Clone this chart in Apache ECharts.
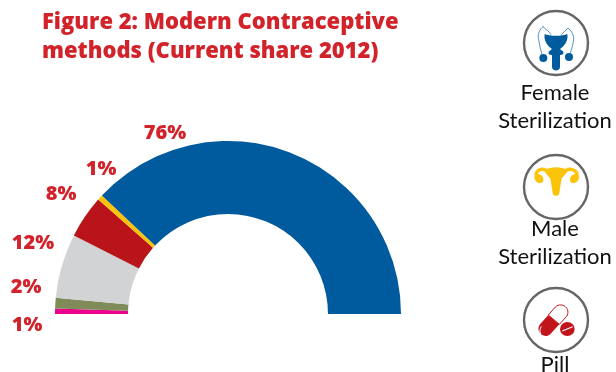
<!DOCTYPE html>
<html>
<head>
<meta charset="utf-8">
<style>html,body{margin:0;padding:0;background:#fff}#chart{width:616px;height:372px}</style>
<script src="https://cdn.jsdelivr.net/npm/echarts@6/dist/echarts.min.js"></script>
</head>
<body>
<div id="chart"></div>
<script>
// Share of each modern method, walking the half ring from left to right.
var methods = ['Other', 'Condom', 'Injectable', 'Pill', 'Male Sterilization', 'Female Sterilization'];
var shares = [1, 2, 12, 8, 1, 76];
var sliceColors = ['#ec008c', '#7f8c5a', '#d1d3d4', '#b9141a', '#fcc30b', '#005a9e'];
var labelSpots = [[27, 325], [26, 287], [33, 243], [61, 194], [101, 169], [165, 133]];
var titleLines = ['Figure 2: Modern Contraceptive', 'methods (Current share 2012)'];

var FONT = 'Lato, "Open Sans", sans-serif';
var HEAD_FONT = '"Open Sans", Lato, sans-serif';
var RED = '#d2232a';

function caption(text, y) {
  return { type: 'text', x: 555, y: y, style: {
    text: text, font: '400 22px ' + FONT, fill: '#111', align: 'center', verticalAlign: 'middle'
  }};
}

function ring(cy) {
  return { type: 'circle', shape: { cx: 556, cy: cy, r: 32 }, style: { fill: '#fff', stroke: '#666', lineWidth: 2.4 } };
}

// Icon artwork is authored at three times size around its own centre.
function icon(cy, children) {
  return { type: 'group', x: 556, y: cy, scaleX: 1 / 3, scaleY: 1 / 3, children: children };
}
var shapeCount = 0;
function shape(d, fill, stroke, width) {
  var name = 'iconPart' + (shapeCount++);
  echarts.graphic.registerShape(name, echarts.graphic.extendPath(d, {}));
  return { type: name, style: { fill: fill || 'none', stroke: stroke || 'none', lineWidth: width || 0 } };
}

var BLUE = '#005a9e', YEL = '#fcc30b', PILL = '#c1141b';

var maleOrgans = icon(43, [
  shape('M-34,-27 C-20,-20 20,-20 34,-27 C38,-5 22,12 12,18 L22,26 C24,34 16,36 12,36 L12,72 C12,86 -12,86 -12,72 L-12,36 C-16,36 -24,34 -22,26 L-12,18 C-22,12 -38,-5 -34,-27 Z', BLUE),
  shape('M-50,45 a12,12 0 1,0 24,0 a12,12 0 1,0 -24,0 Z', BLUE),
  shape('M27,42 a12,12 0 1,0 24,0 a12,12 0 1,0 -24,0 Z', BLUE),
  shape('M-38,-50 C-50,-40 -56,-25 -52,-10 C-50,5 -46,20 -42,35', null, BLUE, 2),
  shape('M36,-45 C48,-35 56,-20 52,-5 C50,10 46,20 42,32', null, BLUE, 2),
  shape('M-40,-50 C-30,-40 -20,-35 -15,-25', null, BLUE, 2),
  shape('M36,-45 C30,-38 22,-32 16,-25', null, BLUE, 2)
]);

var femaleOrgans = icon(187, [
  shape('M-34,-52 C-15,-62 15,-62 34,-52 C36,-45 24,-35 17,-25 C13,-5 11,15 9,22 C5,28 -5,28 -9,22 C-11,15 -13,-5 -17,-25 C-24,-35 -36,-45 -34,-52 Z', YEL),
  shape('M-30,-50 C-45,-58 -60,-50 -60,-36', null, YEL, 10),
  shape('M30,-50 C45,-58 62,-50 64,-36', null, YEL, 10),
  shape('M-65,-30 C-65,-42 -52,-40 -42,-34 C-36,-26 -36,-14 -46,-12 C-56,-10 -65,-20 -65,-30 Z', YEL),
  shape('M69,-30 C69,-42 56,-40 46,-34 C40,-26 40,-14 50,-12 C60,-10 69,-20 69,-30 Z', YEL)
]);

var pillIcon = icon(320, [
  shape('M-23,-15 L-48,13 C-64,33 -36,61 -16,41 L10,13 Z', PILL),
  shape('M-23,-15 L10,13 L32,-11 C46,-33 18,-57 -2,-39 Z', '#fff', PILL, 3),
  shape('M-46,41 C-50,33 -48,25 -44,19', null, '#fff', 3),
  shape('M12,27 a22,21 0 1,0 44,0 a22,21 0 1,0 -44,0 Z', PILL),
  shape('M19,33 L50,20', null, '#fff', 3.5)
]);

var option = {
  animation: false,
  backgroundColor: '#fff',
  title: {
    text: titleLines.join('\n'),
    left: 37, top: 3,
    textStyle: { color: RED, fontFamily: HEAD_FONT, fontWeight: 800, fontSize: 22, lineHeight: 29 }
  },
  series: [{
    type: 'pie',
    center: [228, 314],
    radius: [100, 173],
    startAngle: 180,
    endAngle: 0,
    clockwise: true,
    silent: true,
    labelLine: { show: false },
    label: {
      show: true, position: 'outside', formatter: '{c}%', overflow: 'none',
      color: RED, fontFamily: HEAD_FONT, fontWeight: 800, fontSize: 20
    },
    labelLayout: function (p) {
      var s = labelSpots[p.dataIndex];
      return { x: s[0], y: s[1], align: 'center', verticalAlign: 'middle', hideOverlap: false };
    },
    data: methods.map(function (name, i) {
      return { name: name, value: shares[i], itemStyle: { color: sliceColors[i] } };
    })
  }],
  graphic: { elements: [
    ring(43), maleOrgans, caption('Female', 93), caption('Sterilization', 121),
    ring(187), femaleOrgans, caption('Male', 229), caption('Sterilization', 257),
    ring(320), pillIcon, caption('Pill', 365)
  ]}
};
echarts.init(document.getElementById('chart'), null, { renderer: 'canvas' }).setOption(option);
</script>
</body>
</html>
